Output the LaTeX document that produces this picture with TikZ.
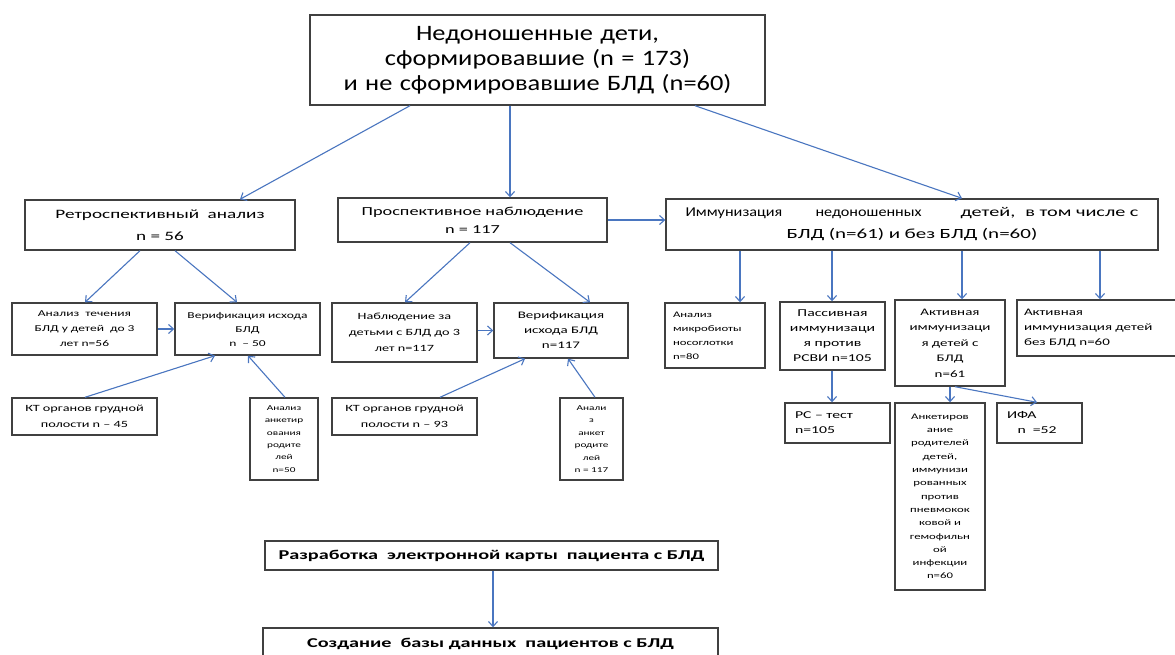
\documentclass[tikz,border=0pt]{standalone}
\usepackage{fontspec}
\setmainfont[FakeStretch=1.2]{Carlito}
\newfontfamily\wfont[FakeStretch=1.5]{Carlito}
\usetikzlibrary{arrows.meta}
\definecolor{arrowblue}{HTML}{4A76C0}
\definecolor{boxgray}{HTML}{404040}
\tikzset{
  box/.style={draw=boxgray, line width=1.4pt, fill=white, inner sep=2pt, align=center, anchor=center},
  conn/.style={draw=arrowblue, line width=1.1pt, -{Straight Barb[length=5pt,width=9pt]}},
}
\newcommand{\fs}[2]{\fontsize{#1}{#2}\selectfont}
\newcommand{\ws}[2]{\wfont\fontsize{#1}{#2}\selectfont}
\begin{document}
\begin{tikzpicture}[x=1pt,y=-1pt]
\useasboundingbox (0,0) rectangle (1175,655);
\fill[white] (0,0) rectangle (1175,655);
\clip (0,0) rectangle (1175,655);

% top
\node[box, minimum width=455, minimum height=90, text width=445, font=\fs{22}{25}] (top) at (537.5,60)
  {Недоношенные дети,\\ сформировавшие (n = 173)\\ и не сформировавшие БЛД (n=60)};

% level 2
\node[box, minimum width=270, minimum height=50, text width=264, font=\ws{12.8}{22}] (retro) at (160,225)
  {Ретроспективный\ \ анализ\\ n = 56};
\node[box, minimum width=269, minimum height=44, text width=259, font=\ws{12.2}{18}] (prosp) at (472.5,220)
  {Проспективное наблюдение\\ n = 117};
\node[box, minimum width=492, minimum height=51, text width=480, font=\fs{13.5}{22}] (immun) at (912,224.5)
  {\leavevmode\hbox to 453pt{\makebox[130pt][l]{Иммунизация}\makebox[145pt][l]{недоношенных}{\ws{13.5}{22}детей,}\hfil{\ws{13.5}{22}в том числе с}}\\
   {\ws{14}{22}БЛД (n=61) и без БЛД (n=60)}};

% retro branch
\node[box, minimum width=145, minimum height=52, text width=137, font=\ws{9}{15}] (an1) at (84.5,329)
  {Анализ\ \ течения\\ БЛД у детей\ \ до 3\\ лет n=56};
\node[box, minimum width=145, minimum height=52, text width=137, font=\ws{9}{14}] (ver1) at (247.5,329)
  {Верификация исхода\\ БЛД\\ n\ \ – 50};
\node[box, minimum width=145, minimum height=37, text width=137, font=\ws{9.5}{16}] (kt1) at (84.5,416.5)
  {КТ органов грудной\\ полости n – 45};
\node[box, minimum width=68, minimum height=82, text width=62, font=\ws{7.5}{12.4}] (ank1) at (284,439)
  {Анализ\\ анкетир\\ ования\\ родите\\ лей\\ n=50};

% prosp branch
\node[box, minimum width=145, minimum height=59, text width=137, font=\ws{9.5}{16}] (nabl) at (404.5,332.5)
  {Наблюдение за\\ детьми с БЛД до 3\\ лет n=117};
\node[box, minimum width=134, minimum height=55, text width=126, font=\ws{10}{15}] (ver2) at (561,330.5)
  {Верификация\\ исхода БЛД\\ n=117};
\node[box, minimum width=145, minimum height=37, text width=137, font=\ws{9.5}{16}] (kt2) at (404.5,416.5)
  {КТ органов грудной\\ полости n – 93};
\node[box, minimum width=63, minimum height=82, text width=57, font=\ws{7.5}{12.4}] (ank2) at (591.5,439)
  {Анали\\ з\\ анкет\\ родите\\ лей\\ n = 117};

% immunization branch
\node[box, minimum width=100, minimum height=65, text width=84, align=left, font=\ws{8.5}{14}] (mik) at (715,335.5)
  {Анализ\\ микробиоты\\ носоглотки\\ n=80};
\node[box, minimum width=105, minimum height=68, text width=99, font=\ws{10.5}{15}] (pas) at (832.5,336)
  {Пассивная\\ иммунизаци\\ я против\\ РСВИ n=105};
\node[box, minimum width=105, minimum height=40, text width=85, align=left, font=\ws{10.5}{15}] (rs) at (837.5,423)
  {РС – тест\\ n=105};
\node[box, minimum width=110, minimum height=86, text width=104, font=\ws{10}{15.5}] (act) at (950,343)
  {Активная\\ иммунизаци\\ я детей с\\ БЛД\\ n=61};
\node[box, minimum width=161, minimum height=56, text width=147, align=left, font=\ws{10}{15}] (actno) at (1097.5,328)
  {Активная\\ иммунизация детей\\ без БЛД n=60};
\node[box, minimum width=90, minimum height=187, text width=86, font=\ws{8.5}{13.3}] (ank3) at (940,496.5)
  {Анкетиров\\ ание\\ родителей\\ детей,\\ иммунизи\\ рованных\\ против\\ пневмокок\\ ковой и\\ гемофильн\\ ой\\ инфекции\\ n=60};
\node[box, minimum width=85, minimum height=40, text width=65, align=left, font=\ws{10.5}{15}] (ifa) at (1039.5,423)
  {ИФА\\ \ \ \ n\ \ =52};

% bottom
\node[box, minimum width=453, minimum height=29, text width=445, font=\ws{13.5}{14}\bfseries] (raz) at (491.5,555.5)
  {Разработка\ \ электронной карты\ \ пациента с БЛД};
\node[box, minimum width=455, minimum height=37, text width=445, font=\ws{13.5}{14}\bfseries] (soz) at (490.5,646.5)
  {\raisebox{8pt}{Создание\ \ базы данных\ \ пациентов с БЛД}};

% connectors
\draw[conn] (top.south -| 410,0) -- (retro.north -| 240,0);
\draw[conn] (top.south -| 510,0) -- (prosp.north -| 510,0);
\draw[conn] (top.south -| 695,0) -- (immun.north -| 962,0);

\draw[conn] (retro.south -| 140,0) -- (an1.north -| 85,0);
\draw[conn] (retro.south -| 175,0) -- (ver1.north -| 237,0);
\draw[conn] (an1.east) -- (ver1.west);
\draw[conn] (kt1.north -| 85,0) -- (ver1.south -| 215,0);
\draw[conn] (ank1.north -| 285,0) -- (ver1.south -| 248,0);

\draw[conn] (prosp.south -| 470,0) -- (nabl.north -| 405,0);
\draw[conn] (prosp.south -| 510,0) -- (ver2.north -| 590,0);
\draw[conn] (prosp.east) -- (immun.west |- prosp.east);
\draw[conn] (nabl.east |- ver2.west) -- (ver2.west);
\draw[conn] (kt2.north -| 440,0) -- (ver2.south -| 525,0);
\draw[conn] (ank2.north -| 595,0) -- (ver2.south -| 568,0);

\draw[conn] (immun.south -| 740,0) -- (mik.north -| 740,0);
\draw[conn] (immun.south -| 832,0) -- (pas.north -| 832,0);
\draw[conn] (immun.south -| 962,0) -- (act.north -| 962,0);
\draw[conn] (immun.south -| 1100,0) -- (actno.north -| 1100,0);
\draw[conn] (pas.south -| 832,0) -- (rs.north -| 832,0);
\draw[conn] (act.south -| 950,0) -- (ank3.north -| 950,0);
\draw[conn] (act.south -| 955,0) -- (ifa.north -| 1037,0);

\draw[conn] (raz.south -| 493,0) -- (soz.north -| 493,0);
\end{tikzpicture}
\end{document}
